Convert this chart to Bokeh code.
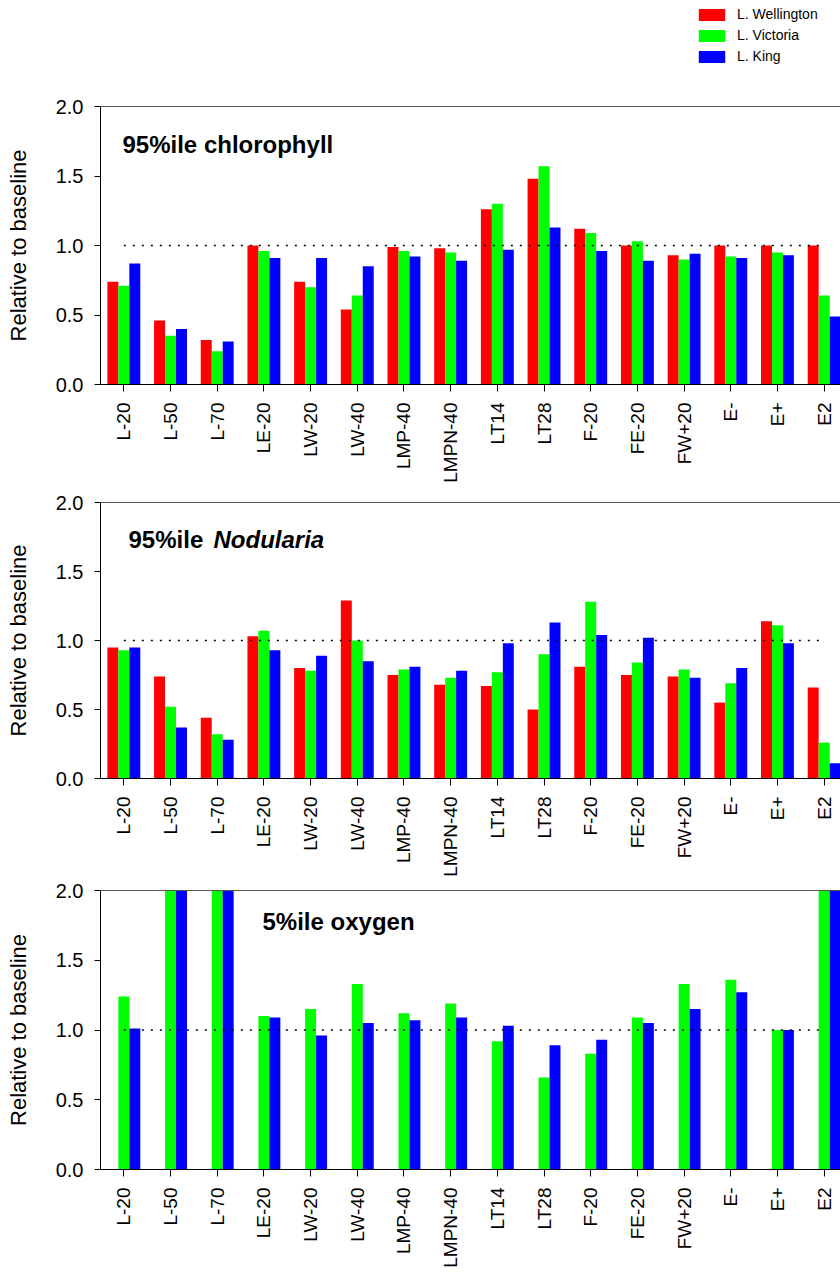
import math
import numpy as np
from bokeh.plotting import figure
from bokeh.models import (FixedTicker, PrintfTickFormatter, LinearAxis, Label,
                          Legend, LegendItem, Range1d, ColumnDataSource)
from bokeh.layouts import column
from bokeh.transform import dodge
from bokeh.embed import file_html
from bokeh.resources import INLINE

# ---------------- data ----------------
categories = ["L-20", "L-50", "L-70", "LE-20", "LW-20", "LW-40", "LMP-40", "LMPN-40",
              "LT14", "LT28", "F-20", "FE-20", "FW+20", "E-", "E+", "E2"]
series_names = ["L. Wellington", "L. Victoria", "L. King"]
colors = ["#ff0000", "#00ff00", "#0000ff"]

chl_wellington = [0.74, 0.46, 0.32, 1.00, 0.74, 0.54, 0.99, 0.98, 1.26, 1.48, 1.12, 1.00, 0.93, 1.00, 1.00, 1.00]
chl_victoria = [0.71, 0.35, 0.24, 0.96, 0.70, 0.64, 0.96, 0.95, 1.30, 1.57, 1.09, 1.03, 0.90, 0.92, 0.95, 0.64]
chl_king = [0.87, 0.40, 0.31, 0.91, 0.91, 0.85, 0.92, 0.89, 0.97, 1.13, 0.96, 0.89, 0.94, 0.91, 0.93, 0.49]

nod_wellington = [0.95, 0.74, 0.44, 1.03, 0.80, 1.29, 0.75, 0.68, 0.67, 0.50, 0.81, 0.75, 0.74, 0.55, 1.14, 0.66]
nod_victoria = [0.93, 0.52, 0.32, 1.07, 0.78, 1.00, 0.79, 0.73, 0.77, 0.90, 1.28, 0.84, 0.79, 0.69, 1.11, 0.26]
nod_king = [0.95, 0.37, 0.28, 0.93, 0.89, 0.85, 0.81, 0.78, 0.98, 1.13, 1.04, 1.02, 0.73, 0.80, 0.98, 0.11]

oxy_wellington = [None, None, None, None, None, None, None, None,
                  None, None, None, None, None, None, None, None]
oxy_victoria = [1.24, 2.00, 2.00, 1.10, 1.15, 1.33, 1.12, 1.19, 0.92, 0.66, 0.83, 1.09, 1.33, 1.36, 1.00, 2.00]
oxy_king = [1.01, 2.00, 2.00, 1.09, 0.96, 1.05, 1.07, 1.09, 1.03, 0.89, 0.93, 1.05, 1.15, 1.27, 1.00, 2.00]

y_ticks = [0.0, 0.5, 1.0, 1.5, 2.0]
baseline = 1.0

FONT = "Liberation Sans"
BAR_W = 0.235
W = 840
FIELDS = ["a", "b", "c"]
OFFSETS = [-BAR_W, 0.0, BAR_W]


def to_arr(v):
    return np.array([np.nan if a is None else a for a in v], dtype=float)


def make_source(vals):
    idx = list(range(len(categories)))
    return ColumnDataSource(dict(x=idx, a=to_arr(vals[0]), b=to_arr(vals[1]), c=to_arr(vals[2])))


def make_panel(src, titles, border_top, frame_h, border_bottom):
    p = figure(width=W, height=border_top + frame_h + border_bottom,
               x_range=Range1d(-0.5, 15.35), y_range=Range1d(0, 2),
               output_backend="svg", toolbar_location=None,
               min_border_left=100, min_border_right=0,
               min_border_top=border_top, min_border_bottom=border_bottom,
               outline_line_color=None, background_fill_color="white")
    p.xgrid.visible = False
    p.ygrid.visible = False

    idx = list(range(len(categories)))
    for field, off, col in zip(FIELDS, OFFSETS, colors):
        p.vbar(x=dodge("x", off), top=field, width=BAR_W, source=src,
               fill_color=col, line_color=None)

    p.line(x=[idx[0], idx[-1]], y=[baseline, baseline], line_color="black",
           line_width=1.5, line_dash="2 7")

    # x axis (below)
    xa = p.below[0]
    xa.ticker = FixedTicker(ticks=idx)
    xa.major_label_overrides = {i: c for i, c in zip(idx, categories)}
    xa.major_label_orientation = math.pi / 2
    xa.major_label_text_font = FONT
    xa.major_label_text_font_size = "19px"
    xa.major_label_text_color = "black"
    xa.major_label_standoff = 11
    xa.major_tick_out = 7
    xa.major_tick_in = 0
    xa.minor_tick_line_color = None
    xa.axis_line_color = "black"
    xa.major_tick_line_color = "black"

    # y axis
    ya = p.left[0]
    ya.ticker = FixedTicker(ticks=y_ticks)
    ya.formatter = PrintfTickFormatter(format="%.1f")
    ya.major_label_text_font = FONT
    ya.major_label_text_font_size = "20px"
    ya.major_label_text_color = "black"
    ya.major_label_standoff = 11
    ya.major_tick_out = 6
    ya.major_tick_in = 0
    ya.minor_tick_line_color = None
    ya.axis_line_color = "black"
    ya.major_tick_line_color = "black"
    ya.axis_label = "Relative to baseline"
    ya.axis_label_text_font = FONT
    ya.axis_label_text_font_size = "22px"
    ya.axis_label_text_font_style = "normal"
    ya.axis_label_text_color = "black"
    ya.axis_label_standoff = 22

    # top frame line
    top_ax = LinearAxis(ticker=FixedTicker(ticks=[]), major_tick_out=0, major_tick_in=0,
                        major_label_standoff=0, minor_tick_line_color=None,
                        major_tick_line_color=None, axis_line_color="#555555")
    p.add_layout(top_ax, "above")

    for (tx, ty, txt, style) in titles:
        p.add_layout(Label(x=tx, y=ty, text=txt, text_font=FONT, text_font_size="24px",
                           text_font_style=style, text_color="black",
                           text_baseline="alphabetic", text_align="left"))
    return p


src_chl = make_source([chl_wellington, chl_victoria, chl_king])
src_nod = make_source([nod_wellington, nod_victoria, nod_king])
src_oxy = make_source([oxy_wellington, oxy_victoria, oxy_king])

# ---- legend strip (its own small figure at the top) ----
p0 = figure(width=W, height=78, x_range=Range1d(-0.5, 15.35), y_range=Range1d(0, 2),
            output_backend="svg", toolbar_location=None,
            min_border_left=100, min_border_right=0, min_border_top=0, min_border_bottom=0,
            outline_line_color=None, x_axis_type=None, y_axis_type=None)
p0.xgrid.visible = False
p0.ygrid.visible = False
items = []
for name, field, off, col in zip(series_names, FIELDS, OFFSETS, colors):
    r = p0.vbar(x=dodge("x", off), top=field, width=BAR_W, source=src_chl,
                fill_color=col, line_color=None, visible=False)
    items.append(LegendItem(label=name, renderers=[r]))
legend = Legend(items=items, location=(595, 14), glyph_width=33, glyph_height=15,
                label_standoff=9, label_text_font=FONT, label_text_font_size="14px",
                label_text_color="black", label_height=15, spacing=5, padding=0,
                margin=0, border_line_color=None, background_fill_alpha=0,
                inactive_fill_alpha=0)
p0.add_layout(legend)

p1 = make_panel(src_chl, [(-0.029, 1.73, "95%ile chlorophyll", "bold")], 28, 278, 101)
p2 = make_panel(src_nod, [(0.10, 1.733, "95%ile ", "bold"),
                          (1.92, 1.733, "Nodularia", "bold italic")], 17, 277, 100)
p3 = make_panel(src_oxy, [(2.97, 1.78, "5%ile oxygen", "bold")], 11, 279, 106)

layout = column(p0, p1, p2, p3)
open("out.html", "w").write(file_html(layout, INLINE))
